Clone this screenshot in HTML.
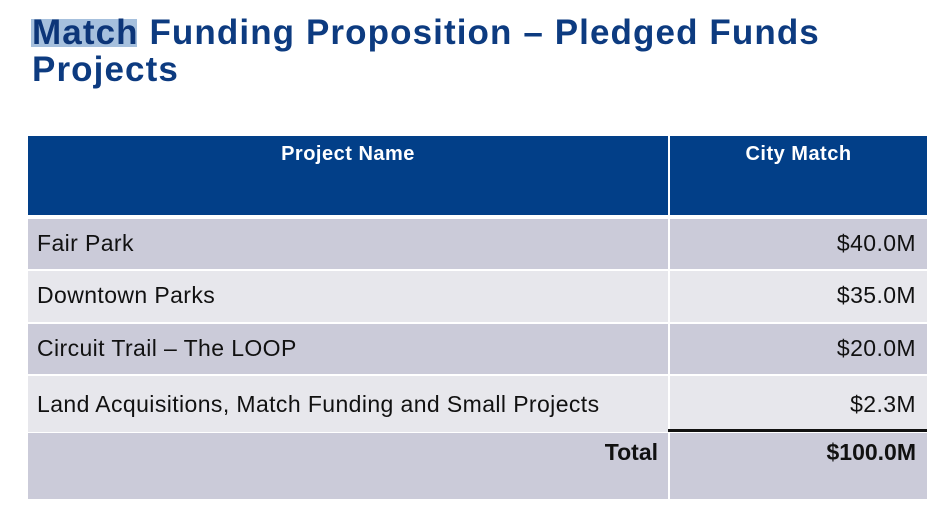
<!DOCTYPE html>
<html>
<head>
<meta charset="utf-8">
<style>
  html, body { margin:0; padding:0; }
  body { width:949px; height:527px; background:#ffffff; position:relative; overflow:hidden;
         font-family:"Liberation Sans", Arial, sans-serif; }
  .abs { position:absolute; }
  .title { position:absolute; left:32px; font-size:35px; font-weight:bold; color:#0d3b80;
           line-height:35px; letter-spacing:1.1px; white-space:nowrap; }
  .hl { position:absolute; left:31px; top:19px; width:106px; height:28px; background:#a6c0dd; }
  .hdr { position:absolute; background:#023f88; }
  .htxt { position:absolute; color:#ffffff; font-weight:bold; font-size:20px; line-height:20px;
          letter-spacing:0.5px; text-align:center; white-space:nowrap; }
  .dark { background:#cbcbd9; }
  .light { background:#e7e7ec; }
  .cell { position:absolute; }
  .t { position:absolute; font-size:23px; line-height:23px; color:#111111; white-space:nowrap; letter-spacing:0.4px; }
  .r { text-align:right; }
  .b { font-weight:bold; letter-spacing:0; }
</style>
</head>
<body>
  <div class="hl"></div>
  <div class="title" style="top:15px;"><span style="color:#0c3578;">Match</span> Funding Proposition – Pledged Funds</div>
  <div class="title" style="top:52px;">Projects</div>

  <!-- header -->
  <div class="hdr" style="left:28px; top:136px; width:640px; height:79px;"></div>
  <div class="hdr" style="left:670px; top:136px; width:257px; height:79px;"></div>
  <div class="htxt" style="left:28px; top:144px; width:640px;">Project Name</div>
  <div class="htxt" style="left:670px; top:144px; width:257px;">City Match</div>

  <!-- row 1 -->
  <div class="cell dark" style="left:28px; top:219px; width:640px; height:50px;"></div>
  <div class="cell dark" style="left:670px; top:219px; width:257px; height:50px;"></div>
  <!-- row 2 -->
  <div class="cell light" style="left:28px; top:271px; width:640px; height:51px;"></div>
  <div class="cell light" style="left:670px; top:271px; width:257px; height:51px;"></div>
  <!-- row 3 -->
  <div class="cell dark" style="left:28px; top:324px; width:640px; height:50px;"></div>
  <div class="cell dark" style="left:670px; top:324px; width:257px; height:50px;"></div>
  <!-- row 4 -->
  <div class="cell light" style="left:28px; top:376px; width:640px; height:56px;"></div>
  <div class="cell light" style="left:670px; top:376px; width:257px; height:53px;"></div>
  <div class="abs" style="left:668px; top:429px; width:259px; height:3px; background:#111111;"></div>
  <!-- total -->
  <div class="cell dark" style="left:28px; top:433px; width:640px; height:66px;"></div>
  <div class="cell dark" style="left:670px; top:433px; width:257px; height:66px;"></div>

  <!-- text -->
  <div class="t" style="left:37px; top:232px;">Fair Park</div>
  <div class="t r" style="left:670px; width:246px; top:232px;">$40.0M</div>

  <div class="t" style="left:37px; top:284px;">Downtown Parks</div>
  <div class="t r" style="left:670px; width:246px; top:284px;">$35.0M</div>

  <div class="t" style="left:37px; top:337px;">Circuit Trail – The LOOP</div>
  <div class="t r" style="left:670px; width:246px; top:337px;">$20.0M</div>

  <div class="t" style="left:37px; top:393px;">Land Acquisitions, Match Funding and Small Projects</div>
  <div class="t r" style="left:670px; width:246px; top:393px;">$2.3M</div>

  <div class="t r b" style="left:28px; width:630px; top:441px;">Total</div>
  <div class="t r b" style="left:670px; width:246px; top:441px;">$100.0M</div>
</body>
</html>
